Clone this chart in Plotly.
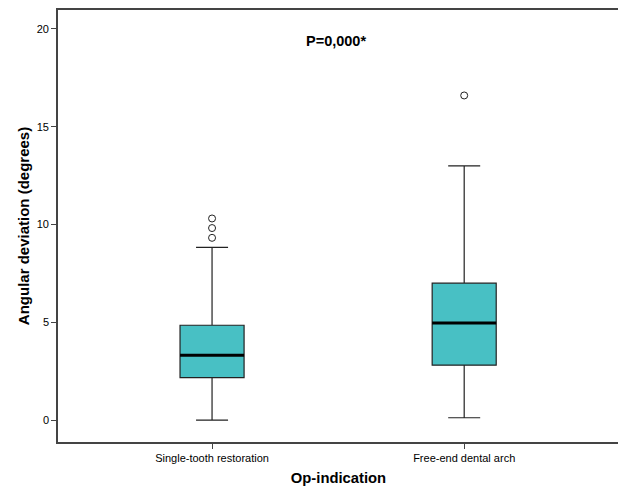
import plotly.graph_objects as go

# Groups
groups = ["Single-tooth restoration", "Free-end dental arch"]

# Box statistics (degrees)
q1 = [2.17, 2.81]
median = [3.31, 4.97]
q3 = [4.85, 7.00]
lower_whisker = [0.0, 0.12]
upper_whisker = [8.83, 13.0]

# Outliers
outlier_group = ["Single-tooth restoration", "Single-tooth restoration",
        "Single-tooth restoration", "Free-end dental arch"]
outlier_values = [10.31, 9.82, 9.32, 16.6]

fill = "#48C0C4"
box_width = 0.254

fig = go.Figure()

# Boxes with whiskers
fig.add_trace(go.Box(
        x=groups, q1=q1, median=median, q3=q3,
        lowerfence=lower_whisker, upperfence=upper_whisker,
        fillcolor=fill, line=dict(color="#222222", width=1.2),
        whiskerwidth=0.5, width=box_width, boxpoints=False,
        hoverinfo="skip", showlegend=False))

# Thicker median line on top
fig.add_trace(go.Box(
        x=groups, q1=median, median=median, q3=median,
        lowerfence=median, upperfence=median,
        fillcolor="rgba(0,0,0,0)", line=dict(color="black", width=3),
        whiskerwidth=0, width=box_width, boxpoints=False,
        hoverinfo="skip", showlegend=False))

# Outlier circles
fig.add_trace(go.Scatter(
        x=outlier_group, y=outlier_values, mode="markers",
        marker=dict(symbol="circle-open", size=7, color="#222222",
                line=dict(width=1)),
        showlegend=False))

fig.add_annotation(
        x=0.496, xref="paper", y=19.38, yref="y", text="<b>P=0,000*</b>",
        showarrow=False, font=dict(size=14.5, color="black"))

axis_line = dict(showline=True, linecolor="#444444", linewidth=1.6,
        mirror=True, showgrid=False, zeroline=False, ticks="outside",
        ticklen=5, tickcolor="#444444", tickwidth=1)

fig.update_xaxes(
        type="category", range=[-0.611, 1.614],
        title=dict(text="<b>Op-indication</b>", font=dict(size=14.8, color="black"),
                standoff=10),
        tickfont=dict(size=11, color="black"), **axis_line)

fig.update_yaxes(
        range=[-1.12, 20.97], tickvals=[0, 5, 10, 15, 20],
        title=dict(text="<b>Angular deviation (degrees)</b>",
                font=dict(size=15, color="black"), standoff=4),
        tickfont=dict(size=11, color="black"), **axis_line)

# page body adds 8px around the figure
fig.update_layout(
        width=618, height=493, boxmode="overlay",
        plot_bgcolor="white", paper_bgcolor="white",
        font=dict(family="Liberation Sans, Arial, sans-serif"),
        margin=dict(l=50, r=7, t=0, b=59))

fig.write_html("out.html")
